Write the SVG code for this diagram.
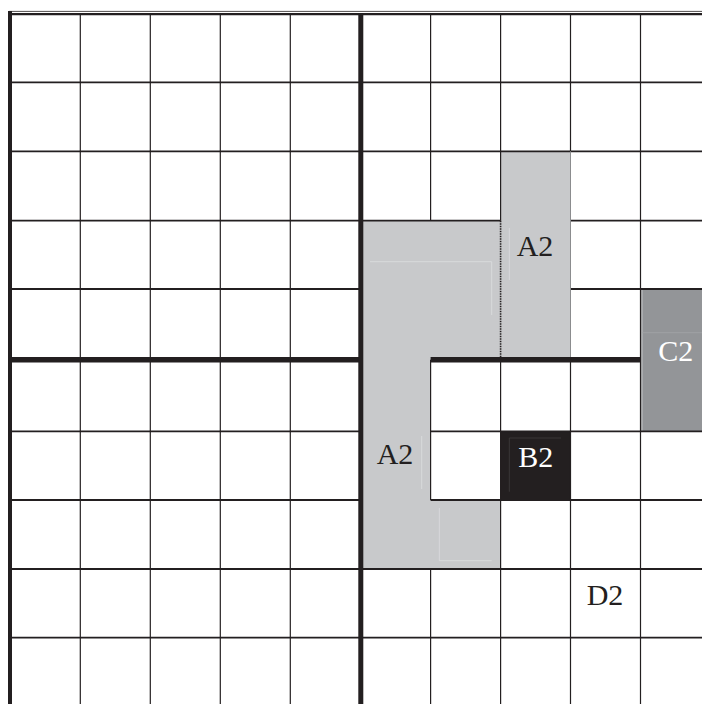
<svg xmlns="http://www.w3.org/2000/svg" width="702" height="704" viewBox="0 0 702 704">
<style>
.lbl{font-family:"Liberation Serif","Times New Roman",serif;font-size:30px}
.dark{fill:#231f20}
.light{fill:#ffffff}
.h{stroke:#231f20;stroke-width:1.8;fill:none}
.v{stroke:#231f20;stroke-width:1.2;fill:none}
.thick{stroke:#231f20;fill:none}
.faint{stroke:#dcdddf;stroke-width:0.8;fill:none}
</style>
<rect x="0" y="0" width="702" height="704" fill="#ffffff"/>
<g id="A2">
<polygon points="363,220.7 500.6,220.7 500.6,151.3 570.5,151.3 570.5,359.8 430.6,359.8 430.6,500 500.6,500 500.6,569 363,569" fill="#c8c9cb"/>
<polyline class="faint" points="370,261.7 491.7,261.7 491.7,315"/>
<line class="faint" x1="509.3" y1="228" x2="509.3" y2="280"/>
<line class="faint" x1="421.7" y1="436" x2="421.7" y2="489"/>
<polyline class="faint" points="439.3,508 439.3,560.7 491.7,560.7"/>
<text class="lbl dark" x="516.7" y="256">A2</text>
<text class="lbl dark" x="376.7" y="464">A2</text>
</g>
<g id="B2">
<rect x="500.6" y="431.3" width="69.9" height="68.7" fill="#231f20"/>
<polyline points="509.3,491.7 509.3,438 561,438" stroke="#403c3d" stroke-width="0.8" fill="none"/>
<text class="lbl light" x="518.3" y="466.7">B2</text>
</g>
<g id="C2">
<rect x="640.5" y="289" width="61.5" height="142.3" fill="#939598"/>
<line x1="642" y1="289" x2="642" y2="431.3" stroke="#c4c5c7" stroke-width="1"/>
<line x1="642" y1="332.7" x2="702" y2="332.7" stroke="#a3a5a8" stroke-width="0.8"/>
<text class="lbl light" x="658.3" y="361">C2</text>
</g>
<g id="D2">
<text class="lbl dark" x="586.7" y="605">D2</text>
</g>
<g id="grid">
<line x1="9" y1="11.4" x2="702" y2="11.4" stroke="#231f20" stroke-width="0.8"/>
<line x1="9" y1="14.2" x2="702" y2="14.2" stroke="#231f20" stroke-width="2.2"/>
<line class="h" x1="10" y1="82.3" x2="702" y2="82.3"/>
<line class="h" x1="10" y1="151.3" x2="702" y2="151.3"/>
<line class="h" x1="10" y1="220.7" x2="500.6" y2="220.7"/>
<line class="h" x1="570.5" y1="220.7" x2="702" y2="220.7"/>
<line class="h" x1="10" y1="289" x2="361" y2="289"/>
<line class="h" x1="570.5" y1="289" x2="702" y2="289"/>
<line class="h" x1="10" y1="431.3" x2="361" y2="431.3"/>
<line class="h" x1="430.6" y1="431.3" x2="702" y2="431.3"/>
<line class="h" x1="10" y1="500" x2="361" y2="500"/>
<line class="h" x1="430.6" y1="500" x2="702" y2="500"/>
<line class="h" x1="10" y1="569" x2="702" y2="569"/>
<line class="h" x1="10" y1="637.7" x2="702" y2="637.7"/>
<line class="v" x1="80.3" y1="14" x2="80.3" y2="704"/>
<line class="v" x1="150.3" y1="14" x2="150.3" y2="704"/>
<line class="v" x1="220.3" y1="14" x2="220.3" y2="704"/>
<line class="v" x1="290.3" y1="14" x2="290.3" y2="704"/>
<line class="v" x1="430.6" y1="14" x2="430.6" y2="220.7"/>
<line class="v" x1="430.6" y1="359.8" x2="430.6" y2="500"/>
<line class="v" x1="430.6" y1="569" x2="430.6" y2="704"/>
<line class="v" x1="500.6" y1="14" x2="500.6" y2="220.7"/>
<line x1="500.6" y1="220.7" x2="500.6" y2="358" stroke="#231f20" stroke-width="1.6" stroke-dasharray="1.5 1"/>
<line class="v" x1="500.6" y1="358" x2="500.6" y2="704"/>
<line class="v" x1="570.5" y1="14" x2="570.5" y2="151.3"/>
<line x1="570.5" y1="151.3" x2="570.5" y2="359" stroke="#8b8c8e" stroke-width="1"/>
<line class="v" x1="570.5" y1="359" x2="570.5" y2="704"/>
<line class="v" x1="640.5" y1="14" x2="640.5" y2="704"/>
<line class="thick" x1="10" y1="359.8" x2="361" y2="359.8" stroke-width="5.5"/>
<line class="thick" x1="430.6" y1="359.8" x2="640.5" y2="359.8" stroke-width="5.5"/>
<line class="thick" x1="10" y1="11" x2="10" y2="704" stroke-width="4"/>
<line class="thick" x1="360.8" y1="13.2" x2="360.8" y2="704" stroke-width="5"/>
</g>
</svg>
